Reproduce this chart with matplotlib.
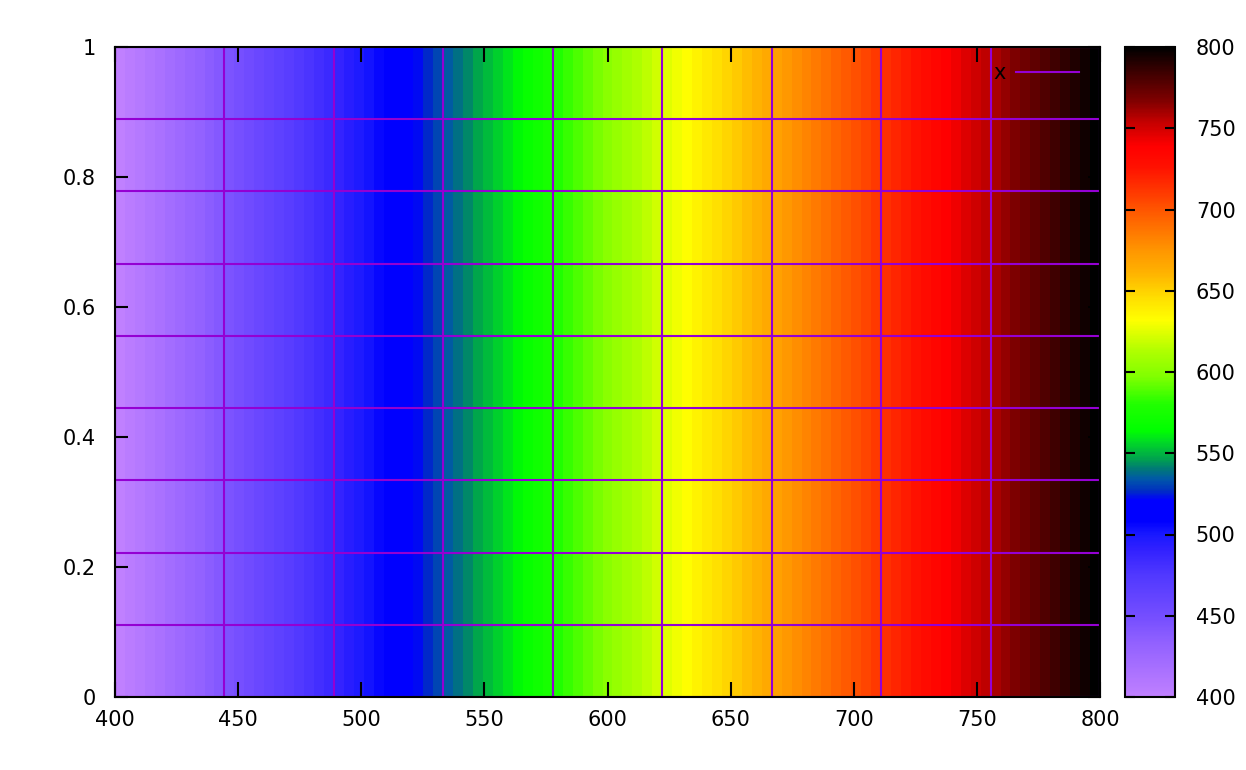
import numpy as np
import matplotlib
matplotlib.use("Agg")
import matplotlib.pyplot as plt
from matplotlib.colors import LinearSegmentedColormap, Normalize
from matplotlib.cm import ScalarMappable

# palette control points (wavelength -> colour)
pal_wl = [400, 434, 447, 475, 491, 500, 508, 521, 527, 534, 540, 546, 552, 558, 564,
          580, 597, 613, 632, 645, 662, 674, 696, 711, 727, 739, 755, 767, 784, 800]
pal_col = ["#C080FF", "#9060FF", "#7850FF", "#5038FF", "#3020FF", "#1818FF", "#0000FF",
           "#0000FF", "#0030C0", "#0058A8", "#007878", "#00A050", "#00C038", "#00E020",
           "#00FF00", "#20FF00", "#80FF00", "#B0FF00", "#FFFF00", "#FFE000", "#FFB000",
           "#FF9800", "#FF6000", "#FF3800", "#FF1000", "#FF0000", "#C00000", "#800000",
           "#400000", "#000000"]

x_min, x_max = 400, 800
y_min, y_max = 0, 1
n_strips = 99          # colour bands visible in the map
n_mesh = 10            # surface samples -> mesh lines
x_ticks = [400, 450, 500, 550, 600, 650, 700, 750, 800]
y_ticks = [0, 0.2, 0.4, 0.6, 0.8, 1]
y_tick_labels = ["0", "0.2", "0.4", "0.6", "0.8", "1"]
cb_ticks = [400, 450, 500, 550, 600, 650, 700, 750, 800]
legend_label = "x"
mesh_color = "#9400D3"

pos = [(w - x_min) / (x_max - x_min) for w in pal_wl]
cmap = LinearSegmentedColormap.from_list("spec", list(zip(pos, pal_col)), N=512)
norm = Normalize(x_min, x_max)

plt.rcParams['font.family'] = ['DejaVu Sans']
fig = plt.figure(figsize=(12.46, 7.70), dpi=100)
ax = fig.add_axes([115/1246, 73/770, 985/1246, 650/770])

# colour map of z = x
x_edges = np.linspace(x_min, x_max, n_strips + 1)
y_edges = np.array([y_min, y_max])
z_vals = np.linspace(x_min, x_max, n_strips)[None, :]
ax.pcolormesh(x_edges, y_edges, z_vals, cmap=cmap, norm=norm, shading='flat')

# surface mesh lines
xs = np.linspace(x_min, x_max, n_mesh)
ys = np.linspace(y_min, y_max, n_mesh)
first = True
for xv in xs:
    ax.plot([xv, xv], [y_min, y_max], color=mesh_color, lw=1.5,
            label=legend_label if first else None, zorder=2)
    first = False
for yv in ys:
    ax.plot([x_min, x_max], [yv, yv], color=mesh_color, lw=1.5, zorder=2)

ax.set_xlim(x_min, x_max)
ax.set_ylim(y_min, y_max)
ax.set_xticks(x_ticks)
ax.set_xticklabels([str(t) for t in x_ticks])
ax.set_yticks(y_ticks)
ax.set_yticklabels(y_tick_labels)
ax.tick_params(direction='in', top=True, right=True, length=9, width=1.5,
               labelsize=15, color='black')
ax.tick_params(axis='x', pad=9, length=11)
ax.tick_params(axis='y', pad=14)
for s in ax.spines.values():
    s.set_linewidth(1.5)
    s.set_zorder(3)

leg = ax.legend(loc='upper right', bbox_to_anchor=(0.993, 0.998), frameon=False,
                markerfirst=False, handlelength=3.0, fontsize=15, borderpad=0.2,
                handletextpad=0.5)

# colour bar
cax = fig.add_axes([1125/1246, 73/770, 50/1246, 650/770])
sm = ScalarMappable(norm=norm, cmap=cmap)
cb = fig.colorbar(sm, cax=cax)
cb.set_ticks(cb_ticks)
cb.set_ticklabels([str(t) for t in cb_ticks])
cax.tick_params(direction='in', left=True, right=True, length=7, width=1.5,
                labelsize=15, pad=15)
cb.outline.set_linewidth(1.5)

fig.savefig("out.png", dpi=100)
